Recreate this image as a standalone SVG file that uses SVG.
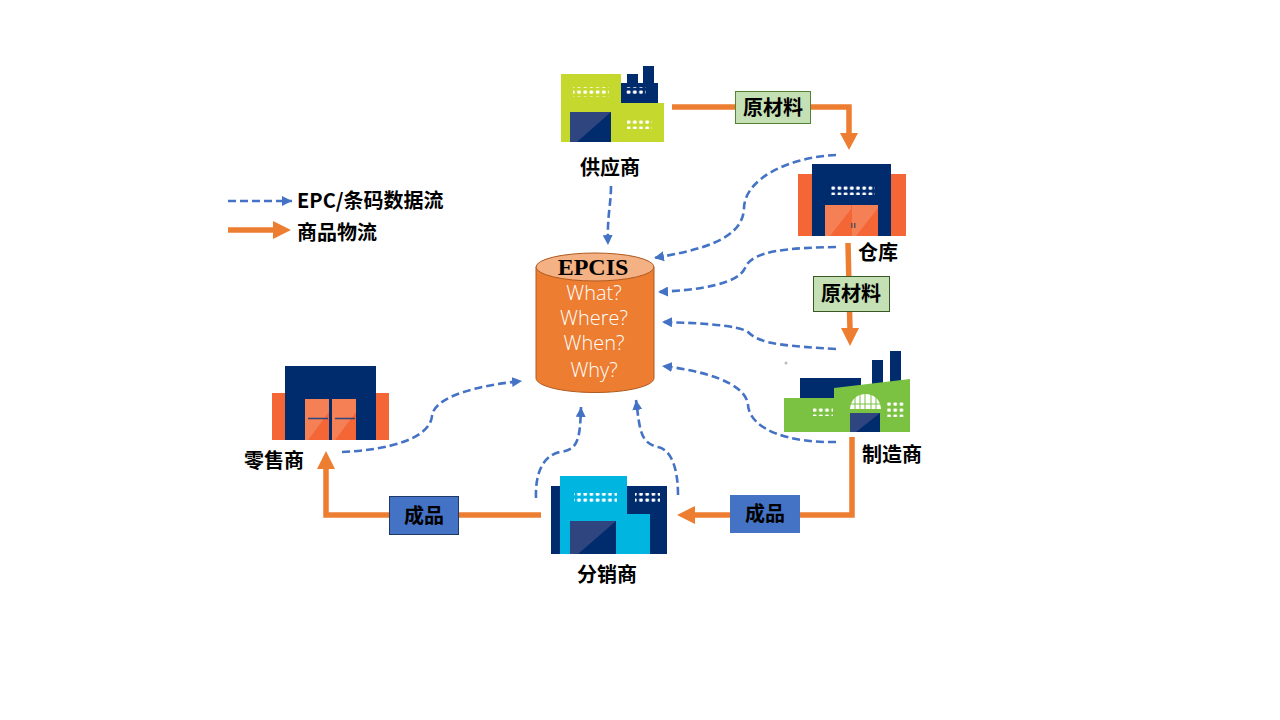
<svg xmlns="http://www.w3.org/2000/svg" width="1280" height="720" viewBox="0 0 1280 720">
<style>
.t{font-family:"Noto Sans CJK SC","Noto Sans",sans-serif;font-weight:700;font-size:20px;fill:#000;text-anchor:middle}
.q{font-family:"Open Sans","Noto Sans",sans-serif;font-weight:300;font-size:20px;fill:#fff;text-anchor:middle}
.flow{fill:none;stroke:#ed7d31;stroke-width:5.5}
.data{fill:none;stroke:#4472c4;stroke-width:2.6;stroke-dasharray:8 4}
.navy{fill:#002c6e}
.w{fill:#fff}
.dk{fill:#2f4580}
</style>
<defs>
<marker id="ah" markerUnits="userSpaceOnUse" markerWidth="11" markerHeight="10" refX="10" refY="5" orient="auto"><path d="M0 0L10 5L0 10Z" fill="#4472c4"/></marker>
<pattern id="dots" width="6.2" height="6" patternUnits="userSpaceOnUse"><rect x="0.6" y="0.6" width="3.6" height="3.2" rx="1" fill="#fff"/></pattern>
</defs>
<g id="connectors">
<path class="flow" d="M672 107H849V134"/><path d="M840 133H858L849 150Z" fill="#ed7d31"/>
<path class="flow" d="M848 243L850 330"/><path d="M841 328H859L850 346Z" fill="#ed7d31"/>
<path class="flow" d="M852 437V515H695"/><path d="M695 506V524L677 515Z" fill="#ed7d31"/>
<path class="flow" d="M541 515H326V468"/><path d="M317 469H335L326 451Z" fill="#ed7d31"/>
<path class="data" marker-end="url(#ah)" d="M611 186C611 205 607 215 608 245"/>
<path class="data" marker-end="url(#ah)" d="M836 155C790 157 745 178 744 208C743 240 700 250 654 258"/>
<path class="data" marker-end="url(#ah)" d="M836 247C790 248 752 250 745 268C738 284 700 290 658 292"/>
<path class="data" marker-end="url(#ah)" d="M836 349C790 346 760 345 748 332C738 325 700 323 662 322"/>
<path class="data" marker-end="url(#ah)" d="M836 442C790 443 750 430 748 405C746 382 700 370 662 366"/>
<path class="data" marker-end="url(#ah)" d="M342 452C390 450 430 438 432 416C434 396 480 385 522 381"/>
<path class="data" marker-end="url(#ah)" d="M536 498C535 470 545 455 560 452C578 450 580 440 581 407"/>
<path class="data" marker-end="url(#ah)" d="M678 495C678 470 672 450 658 447C640 443 640 430 636 400"/>
<path class="data" marker-end="url(#ah)" d="M228 201H292"/>
<path d="M228 230H274" stroke="#ed7d31" stroke-width="5.5" fill="none"/><path d="M273 221L291 230L273 239Z" fill="#ed7d31"/>
</g>
<g id="legend">
<text class="t" x="297" y="208" style="text-anchor:start">EPC/条码数据流</text>
<text class="t" x="297" y="240" style="text-anchor:start">商品物流</text>
</g>
<g id="supplier">
<path d="M561 74H621V103H664V142H561Z" fill="#c4d82d"/>
<path class="navy" d="M621 103V83H627V74H638V83H643V66H654V83H658V103Z"/>
<rect class="dk" x="570" y="112" width="41" height="30"/><path class="navy" d="M611 112V142H577Z"/>
<rect x="573" y="87" width="36" height="10" fill="url(#dots)"/>
<rect x="626" y="87" width="20" height="9" fill="url(#dots)"/>
<rect x="627" y="119" width="25" height="10" fill="url(#dots)"/>
<text class="t" x="610" y="175">供应商</text>
</g>
<g id="warehouse">
<rect x="798" y="174" width="108" height="62" fill="#f46636"/>
<rect class="navy" x="812" y="164" width="79" height="72"/>
<rect x="825" y="205" width="53" height="31" fill="#f46636"/>
<path d="M825 205H851V209L830 236H825Z M852 205H878V208L856 236H852Z" fill="#f58055"/>
<rect x="851" y="223" width="1.5" height="5" fill="#555"/><rect x="854" y="223" width="1.5" height="5" fill="#555"/>
<rect x="831" y="185" width="44" height="10" fill="url(#dots)"/>
<text class="t" x="878" y="260">仓库</text>
</g>
<g id="manufacturer">
<circle cx="786" cy="363" r="1.5" fill="#bbb"/>
<rect class="navy" x="800" y="378" width="61" height="21"/>
<rect class="navy" x="872" y="360" width="11" height="26"/>
<rect class="navy" x="890" y="351" width="11" height="32"/>
<path d="M784 398H834V388L910 379V432H784Z" fill="#7bc142"/>
<path d="M850 409C851 389 880 389 881 409Z" fill="#fff"/>
<path d="M855 394V409M860 392V409M865 392V409M871 392V409M876 394V409M850 404H881" stroke="#7bc142" stroke-width="1"/>
<rect class="dk" x="850" y="413" width="30" height="19"/><path class="navy" d="M880 413V432H856Z"/>
<rect x="813" y="407" width="20" height="9" fill="url(#dots)"/>
<rect x="813" y="413" width="14" height="3" fill="#7bc142" opacity="0"/>
<rect x="887" y="402" width="17" height="15" fill="url(#dots)"/>
<text class="t" x="892" y="462">制造商</text>
</g>
<g id="distributor">
<rect class="navy" x="551" y="486" width="116" height="68"/>
<path d="M560 476H627V514H650V554H560Z" fill="#00b5e0"/>
<rect class="dk" x="570" y="521" width="46" height="33"/><path class="navy" d="M616 521V554H578Z"/>
<rect x="574" y="493" width="43" height="11" fill="url(#dots)"/>
<rect x="635" y="493" width="25" height="10" fill="url(#dots)"/>
<text class="t" x="607" y="582">分销商</text>
</g>
<g id="retailer">
<rect x="272" y="393" width="117" height="47" fill="#f46636"/>
<rect class="navy" x="285" y="366" width="91" height="74"/>
<rect x="305" y="399" width="24" height="41" fill="#f46636"/>
<rect x="332" y="399" width="24" height="41" fill="#f46636"/>
<path d="M305 399H329V412L308 440H305Z M332 399H356V412L335 440H332Z" fill="#f58055"/>
<path d="M308 418.500H328M335 418.500H355" stroke="#2f4580" stroke-width="1.500"/>
<text class="t" x="274" y="468">零售商</text>
</g>
<g id="epcis">
<path d="M536 267V378C536 386 562 392.500 595 392.500S654 386 654 378V267Z" fill="#ed7d31" stroke="#ae5a21"/>
<ellipse cx="595" cy="267" rx="59" ry="14" fill="#f4b183" stroke="#ae5a21"/>
<text x="593" y="275" text-anchor="middle" font-family="'Liberation Serif',serif" font-weight="700" font-size="24" fill="#000">EPCIS</text>
<text class="q" x="594" y="300">What?</text>
<text class="q" x="594" y="325">Where?</text>
<text class="q" x="594" y="350">When?</text>
<text class="q" x="594" y="377">Why?</text>
</g>
<g id="label-raw-1"><rect x="735.500" y="91.500" width="75" height="32" fill="#c5e0b4" stroke="#548235"/><text class="t" x="773" y="115">原材料</text></g>
<g id="label-raw-2"><rect x="813.500" y="276.500" width="76" height="35" fill="#c5e0b4" stroke="#385723"/><text class="t" x="851" y="301">原材料</text></g>
<g id="label-goods-1"><rect x="389.500" y="496.500" width="69" height="38" fill="#4472c4" stroke="#203864"/><text class="t" x="424" y="523">成品</text></g>
<g id="label-goods-2"><rect x="730" y="495" width="70" height="38" fill="#4472c4"/><text class="t" x="765" y="521">成品</text></g>
</svg>
